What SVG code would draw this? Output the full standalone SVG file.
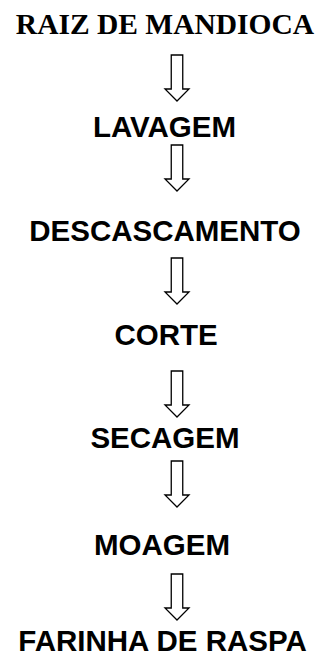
<svg xmlns="http://www.w3.org/2000/svg" width="320" height="661" viewBox="0 0 320 661">
<defs>
<style>
.t{font-family:"Liberation Sans",Arial,sans-serif;font-weight:bold;font-size:29.5px;fill:#000;text-anchor:middle}
.s{font-family:"Liberation Serif","Times New Roman",serif;font-weight:bold;font-size:29.5px;fill:#000;text-anchor:middle}
.a{fill:#fff;stroke:#000;stroke-width:1.3;stroke-linejoin:miter}
</style>
<path id="arr" d="M-5.75,0 H5.75 V34 H12 L0,46 L-12,34 H-5.75 Z"/>
</defs>
<rect width="320" height="661" fill="#fff"/>
<g id="n1"><text class="s" x="165" y="34">RAIZ DE MANDIOCA</text></g>
<g id="n2"><text class="t" x="164.5" y="137">LAVAGEM</text></g>
<g id="n3"><text class="t" x="165" y="241">DESCASCAMENTO</text></g>
<g id="n4"><text class="t" x="166" y="345">CORTE</text></g>
<g id="n5"><text class="t" x="165" y="448">SECAGEM</text></g>
<g id="n6"><text class="t" x="162" y="555">MOAGEM</text></g>
<g id="n7"><text class="t" x="162.5" y="651">FARINHA DE RASPA</text></g>
<g id="connectors">
<use href="#arr" class="a" x="177" y="55"/>
<use href="#arr" class="a" x="177" y="145"/>
<use href="#arr" class="a" x="177" y="258"/>
<use href="#arr" class="a" x="177" y="371"/>
<use href="#arr" class="a" x="177" y="461"/>
<use href="#arr" class="a" x="177" y="574"/>
</g>
</svg>
